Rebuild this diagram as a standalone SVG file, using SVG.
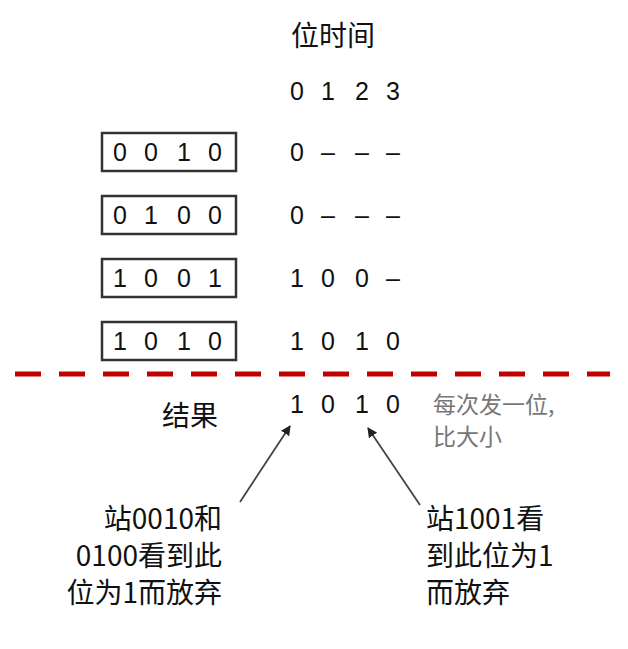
<svg xmlns="http://www.w3.org/2000/svg" width="628" height="649" viewBox="0 0 628 649">
<style>
.t{font-family:"Liberation Sans","Noto Sans CJK SC",sans-serif;font-size:25px;fill:#111;text-anchor:middle}
.c{font-family:"Noto Sans CJK SC",sans-serif;font-size:28px;fill:#111}
.g{font-family:"Noto Sans CJK SC",sans-serif;font-size:23px;fill:#777}
.box{fill:#fff;stroke:#333;stroke-width:2.5}
.a{stroke:#444;stroke-width:1.8;fill:none;marker-end:url(#ah)}
</style>
<defs><marker id="ah" markerWidth="10" markerHeight="10" refX="9" refY="5" orient="auto" markerUnits="userSpaceOnUse"><path d="M0,0L10,5L0,10z" fill="#222"/></marker></defs>
<rect width="628" height="649" fill="#fff"/>
<g id="header"><text class="c" x="333" y="46" text-anchor="middle" font-size="29">位时间</text>
<text class="t" x="297 328 362 393" y="100">0123</text></g>
<g id="s1"><rect class="box" x="102" y="133" width="134" height="38"/><text class="t" x="120 151 184 215" y="161">0010</text><text class="t" x="297 328 362 393" y="161">0–––</text></g>
<g id="s2"><rect class="box" x="102" y="196" width="134" height="38"/><text class="t" x="120 151 184 215" y="224">0100</text><text class="t" x="297 328 362 393" y="224">0–––</text></g>
<g id="s3"><rect class="box" x="102" y="259" width="134" height="38"/><text class="t" x="120 151 184 215" y="287">1001</text><text class="t" x="297 328 362 393" y="287">100–</text></g>
<g id="s4"><rect class="box" x="102" y="322" width="134" height="38"/><text class="t" x="120 151 184 215" y="350">1010</text><text class="t" x="297 328 362 393" y="350">1010</text></g>
<line x1="15" y1="374" x2="610" y2="374" stroke="#c00000" stroke-width="5" stroke-dasharray="26,18"/>
<g id="result"><text class="c" x="218" y="426" text-anchor="end">结果</text><text class="t" x="297 328 362 393" y="413">1010</text>
<text class="g" x="433" y="413">每次发一位,</text><text class="g" x="433" y="445">比大小</text></g>
<g id="connectors"><line class="a" x1="240" y1="502" x2="290" y2="426"/><line class="a" x1="420" y1="505" x2="368" y2="428"/></g>
<g id="noteL"><text class="c" x="222" y="529" text-anchor="end">站0010和</text><text class="c" x="222" y="566" text-anchor="end">0100看到此</text><text class="c" x="222" y="603" text-anchor="end">位为1而放弃</text></g>
<g id="noteR"><text class="c" x="426" y="529">站1001看</text><text class="c" x="426" y="566">到此位为1</text><text class="c" x="426" y="603">而放弃</text></g>
</svg>
